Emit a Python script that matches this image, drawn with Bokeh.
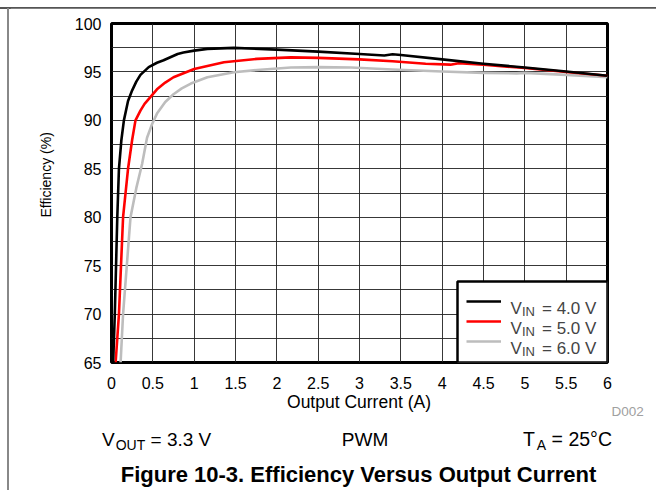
from bokeh.plotting import figure
from bokeh.layouts import column, row
from bokeh.models import Range1d, FixedTicker, Label, Title, Div, NumeralTickFormatter
from bokeh.embed import file_html
from bokeh.resources import INLINE

# ---------------- data ----------------
iout_4v = [0.02, 0.04, 0.07, 0.09, 0.12, 0.15, 0.20, 0.25, 0.30, 0.35, 0.45, 0.55, 0.63, 0.80,
           0.87, 1.00, 1.16, 1.48, 2.00, 2.50, 3.00, 3.30, 3.40, 3.50, 4.00, 4.50, 5.00, 5.50, 6.00]
eff_4v = [65.0, 70.0, 80.0, 85.0, 88.0, 90.0, 92.0, 93.1, 94.0, 94.7, 95.5, 95.95, 96.2, 96.85,
          97.0, 97.2, 97.38, 97.48, 97.3, 97.1, 96.85, 96.7, 96.82, 96.75, 96.3, 95.85, 95.45, 95.05, 94.6]

iout_5v = [0.05, 0.09, 0.14, 0.20, 0.25, 0.29, 0.35, 0.40, 0.47, 0.55, 0.65, 0.75, 1.00, 1.36,
           1.76, 2.17, 2.50, 3.00, 3.40, 3.80, 4.10, 4.20, 4.50, 5.00, 5.50, 6.00]
eff_5v = [65.0, 70.0, 80.0, 85.0, 88.0, 90.0, 91.0, 91.7, 92.4, 93.2, 93.9, 94.45, 95.3, 96.0,
          96.35, 96.5, 96.45, 96.3, 96.1, 95.85, 95.75, 95.9, 95.75, 95.4, 95.0, 94.6]

iout_6v = [0.11, 0.14, 0.23, 0.30, 0.37, 0.43, 0.49, 0.55, 0.65, 0.75, 0.85, 0.96, 1.16, 1.48,
           1.76, 2.17, 2.50, 2.90, 3.40, 4.00, 4.50, 4.90, 5.00, 5.50, 6.00]
eff_6v = [65.0, 70.0, 80.0, 83.0, 85.5, 88.2, 89.6, 90.7, 91.9, 92.7, 93.3, 93.8, 94.45, 94.97,
          95.2, 95.45, 95.5, 95.45, 95.25, 95.05, 94.9, 94.85, 94.9, 94.7, 94.45]

series_names = ["= 4.0 V", "= 5.0 V", "= 6.0 V"]
x_ticks = [0, 0.5, 1, 1.5, 2, 2.5, 3, 3.5, 4, 4.5, 5, 5.5, 6]
y_ticks = [65, 70, 75, 80, 85, 90, 95, 100]
y_grid = [65, 67.5, 70, 72.5, 75, 77.5, 80, 82.5, 85, 87.5, 90, 92.5, 95, 97.5, 100]

# ---------------- layout ----------------
OX, OY = 10, 8                      # figure origin on the page
W, H = 646, 386
L, R, T, B = 101, 49, 15, 32
FW, FH = W - L - R, H - T - B
X0, X1, Y0, Y1 = 0, 6, 65, 100
FONT = "Liberation Sans"

def px2x(px):
    return X0 + (px - OX - L) / FW * (X1 - X0)

def py2y(py):
    return Y0 + (H - B - (py - OY)) / FH * (Y1 - Y0)

p = figure(width=W, height=H, output_backend="svg", toolbar_location=None,
           x_range=Range1d(X0, X1), y_range=Range1d(Y0, Y1),
           min_border_left=L, min_border_right=R, min_border_top=T, min_border_bottom=B)
p.background_fill_color = "white"
p.border_fill_color = "white"
p.outline_line_color = "black"
p.outline_line_width = 3

p.xaxis.ticker = FixedTicker(ticks=x_ticks)
p.yaxis.ticker = FixedTicker(ticks=y_ticks)
p.xgrid.ticker = FixedTicker(ticks=x_ticks)
p.ygrid.ticker = FixedTicker(ticks=y_grid)
p.xaxis.formatter = NumeralTickFormatter(format="0.[0]")
for g in (p.xgrid, p.ygrid):
    g.grid_line_color = "#222222"
    g.grid_line_width = 1
    g.grid_line_alpha = 0.9

for ax in (p.xaxis, p.yaxis):
    ax.axis_line_color = None
    ax.major_tick_line_color = None
    ax.minor_tick_line_color = None
    ax.major_label_text_font = FONT
    ax.major_label_text_font_size = "16px"
    ax.major_label_text_color = "black"
p.xaxis.major_label_standoff = 8
p.yaxis.major_label_standoff = 4

# y axis title, beside the axis and lifted like in the reference
p.add_layout(Title(text="Efficiency (%)", align="left", offset=145, standoff=36,
                   text_font=FONT, text_font_size="14px", text_font_style="normal",
                   text_color="black"), "left")

colors = ["black", "#ff0000", "#bdbdbd"]
data = [(iout_4v, eff_4v), (iout_5v, eff_5v), (iout_6v, eff_6v)]
for (xs, ys), c in zip(reversed(data), reversed(colors)):
    p.line(xs, ys, line_color=c, line_width=2.6, line_join="round")

# ---------------- legend (manual, with subscripts) ----------------
p.quad(left=px2x(457), right=X1, bottom=Y0, top=py2y(281),
       fill_color="white", line_color="black", line_width=2.5)
for i, (c, name) in enumerate(zip(colors, series_names)):
    ry = 301 + 20 * i
    p.segment(x0=px2x(466), y0=py2y(ry), x1=px2x(500.5), y1=py2y(ry),
              line_color=c, line_width=2.6)
    p.add_layout(Label(x=px2x(510), y=py2y(ry + 6.5), text="V", text_font=FONT,
                       text_font_size="17px", text_baseline="alphabetic"))
    p.add_layout(Label(x=px2x(521.5), y=py2y(ry + 10), text="IN", text_font=FONT,
                       text_font_size="13px", text_baseline="alphabetic"))
    p.add_layout(Label(x=px2x(541.5), y=py2y(ry + 6.5), text=name, text_font=FONT,
                       text_font_size="17px", text_baseline="alphabetic"))

# ---------------- texts below the chart (HTML, for subscripts) ----------------
NX, NY = OX, OY + H        # notes block origin on the page

def box(left, base, size, html, width=None, align="left", weight="normal", color="black"):
    top = base - NY - 0.8465 * size
    w = f"width:{width}px;" if width else ""
    return (f'<div style="position:absolute;left:{left - NX}px;top:{top:.1f}px;{w}'
            f'text-align:{align};font-family:\'{FONT}\';font-size:{size}px;line-height:1;'
            f'font-weight:{weight};color:{color};white-space:nowrap;">{html}</div>')

def sub(t, size=14, shift=4, gap=1):
    return (f'<span style="font-size:{size}px;position:relative;top:{shift}px;'
            f'margin-left:{gap}px;">{t}</span>')

notes_html = (
    f'<div style="position:relative;width:{W}px;height:96px;">'
    + box(111, 408.5, 17.5, "Output Current (A)", width=496, align="center")
    + box(611.5, 416, 13.5, "D002", color="#a0a0a0")
    + box(102, 446, 19, "V" + sub("OUT") + " = 3.3 V")
    + box(315, 446, 19, "PWM", width=100, align="center")
    + box(412, 446, 19.5, "T" + sub("A", gap=2) + " = 25°C", width=200, align="right")
    + box(58.5, 482.5, 22, "Figure 10-3. Efficiency Versus Output Current", width=600,
          align="center", weight="bold")
    + '</div>'
)
notes = Div(text=notes_html, width=W, height=96, margin=(0, 0, 0, 0))

# ---------------- page frame lines (datasheet border) ----------------
top_div = Div(text='<div style="position:relative;width:656px;height:8px;">'
                   '<div style="position:absolute;left:0;top:3px;width:656px;height:1.5px;background:#555;"></div>'
                   '<div style="position:absolute;left:7px;top:4px;width:2px;height:4px;background:#888;"></div>'
                   '</div>', width=656, height=8, margin=(0, 0, 0, 0))
side_div = Div(text='<div style="position:relative;width:10px;height:482px;">'
                    '<div style="position:absolute;left:7px;top:0;width:2px;height:482px;background:#888;"></div>'
                    '</div>', width=10, height=482, margin=(0, 0, 0, 0))

layout = column(top_div, row(side_div, column(p, notes, spacing=0), spacing=0), spacing=0)

open("out.html", "w").write(file_html(layout, INLINE))
